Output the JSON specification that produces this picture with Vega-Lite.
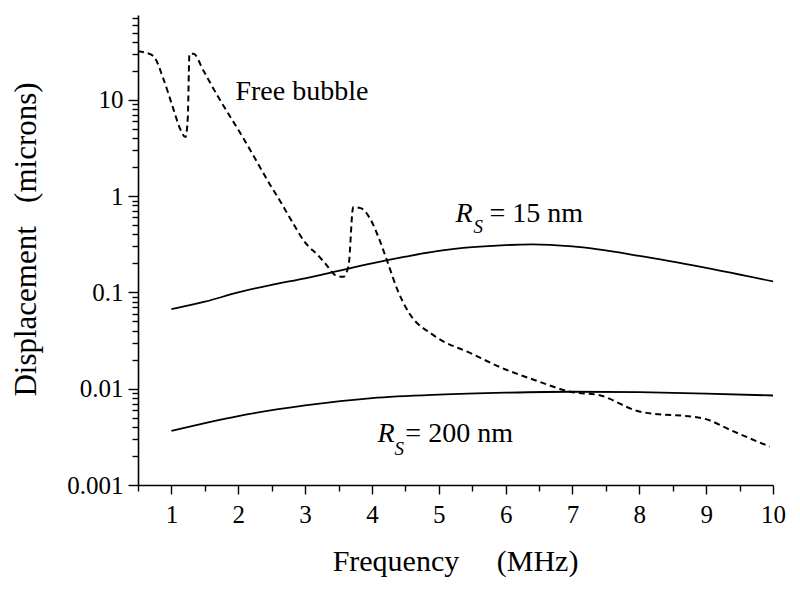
{
  "$schema": "https://vega.github.io/schema/vega-lite/v6.json",
  "autosize": {"type": "none"},
  "width": 635,
  "height": 470,
  "padding": {"left": 138, "top": 15, "right": 27, "bottom": 107},
  "background": "white",
  "config": {
    "view": {"stroke": null},
    "font": "Liberation Serif, Times New Roman, Times, serif",
    "text": {"font": "Liberation Serif, Times New Roman, Times, serif"},
    "axis": {"grid": false, "domainColor": "black", "tickColor": "black", "labelColor": "black", "titleColor": "black", "domainWidth": 1.6, "tickWidth": 1.4, "labelFont": "Liberation Serif, Times New Roman, Times, serif", "titleFont": "Liberation Serif, Times New Roman, Times, serif", "titleFontWeight": "normal"}
  },
  "datasets": {
    "curves": [
      {"series": "Free bubble", "freq": 0.5, "disp": 32},
      {"series": "Free bubble", "freq": 0.6, "disp": 31},
      {"series": "Free bubble", "freq": 0.73, "disp": 28.5},
      {"series": "Free bubble", "freq": 0.88, "disp": 16.5},
      {"series": "Free bubble", "freq": 1.03, "disp": 8.0},
      {"series": "Free bubble", "freq": 1.13, "disp": 5.0},
      {"series": "Free bubble", "freq": 1.21, "disp": 4.1},
      {"series": "Free bubble", "freq": 1.245, "disp": 6.5},
      {"series": "Free bubble", "freq": 1.27, "disp": 30},
      {"series": "Free bubble", "freq": 1.33, "disp": 30},
      {"series": "Free bubble", "freq": 1.48, "disp": 20},
      {"series": "Free bubble", "freq": 1.69, "disp": 11},
      {"series": "Free bubble", "freq": 1.85, "disp": 7.2},
      {"series": "Free bubble", "freq": 2.0, "disp": 4.9},
      {"series": "Free bubble", "freq": 2.18, "disp": 3.0},
      {"series": "Free bubble", "freq": 2.48, "disp": 1.3},
      {"series": "Free bubble", "freq": 2.63, "disp": 0.88},
      {"series": "Free bubble", "freq": 2.8, "disp": 0.55},
      {"series": "Free bubble", "freq": 3.0, "disp": 0.33},
      {"series": "Free bubble", "freq": 3.2, "disp": 0.24},
      {"series": "Free bubble", "freq": 3.3, "disp": 0.2},
      {"series": "Free bubble", "freq": 3.46, "disp": 0.15},
      {"series": "Free bubble", "freq": 3.57, "disp": 0.145},
      {"series": "Free bubble", "freq": 3.65, "disp": 0.19},
      {"series": "Free bubble", "freq": 3.72, "disp": 0.77},
      {"series": "Free bubble", "freq": 3.83, "disp": 0.75},
      {"series": "Free bubble", "freq": 3.98, "disp": 0.57},
      {"series": "Free bubble", "freq": 4.1, "disp": 0.37},
      {"series": "Free bubble", "freq": 4.23, "disp": 0.21},
      {"series": "Free bubble", "freq": 4.38, "disp": 0.107},
      {"series": "Free bubble", "freq": 4.55, "disp": 0.062},
      {"series": "Free bubble", "freq": 4.92, "disp": 0.036},
      {"series": "Free bubble", "freq": 5.5, "disp": 0.023},
      {"series": "Free bubble", "freq": 5.93, "disp": 0.0166},
      {"series": "Free bubble", "freq": 6.42, "disp": 0.0124},
      {"series": "Free bubble", "freq": 6.97, "disp": 0.0093},
      {"series": "Free bubble", "freq": 7.42, "disp": 0.0085},
      {"series": "Free bubble", "freq": 8.0, "disp": 0.0058},
      {"series": "Free bubble", "freq": 8.96, "disp": 0.0049},
      {"series": "Free bubble", "freq": 9.41, "disp": 0.0036},
      {"series": "Free bubble", "freq": 9.95, "disp": 0.0025},
      {"series": "Rs 15 nm", "freq": 1, "disp": 0.067},
      {"series": "Rs 15 nm", "freq": 1.5, "disp": 0.08},
      {"series": "Rs 15 nm", "freq": 2, "disp": 0.1},
      {"series": "Rs 15 nm", "freq": 2.5, "disp": 0.12},
      {"series": "Rs 15 nm", "freq": 3, "disp": 0.14},
      {"series": "Rs 15 nm", "freq": 3.5, "disp": 0.167},
      {"series": "Rs 15 nm", "freq": 4, "disp": 0.2},
      {"series": "Rs 15 nm", "freq": 4.5, "disp": 0.235},
      {"series": "Rs 15 nm", "freq": 5, "disp": 0.27},
      {"series": "Rs 15 nm", "freq": 5.5, "disp": 0.295},
      {"series": "Rs 15 nm", "freq": 6, "disp": 0.31},
      {"series": "Rs 15 nm", "freq": 6.4, "disp": 0.315},
      {"series": "Rs 15 nm", "freq": 7, "disp": 0.3},
      {"series": "Rs 15 nm", "freq": 8, "disp": 0.24},
      {"series": "Rs 15 nm", "freq": 9, "disp": 0.18},
      {"series": "Rs 15 nm", "freq": 10, "disp": 0.13},
      {"series": "Rs 200 nm", "freq": 1, "disp": 0.00365},
      {"series": "Rs 200 nm", "freq": 2, "disp": 0.0052},
      {"series": "Rs 200 nm", "freq": 3, "disp": 0.0067},
      {"series": "Rs 200 nm", "freq": 4, "disp": 0.008},
      {"series": "Rs 200 nm", "freq": 5, "disp": 0.0087},
      {"series": "Rs 200 nm", "freq": 6, "disp": 0.0091},
      {"series": "Rs 200 nm", "freq": 7, "disp": 0.0093},
      {"series": "Rs 200 nm", "freq": 8, "disp": 0.0092},
      {"series": "Rs 200 nm", "freq": 9, "disp": 0.0089},
      {"series": "Rs 200 nm", "freq": 10, "disp": 0.0085}
    ],
    "plainText": [
      {"freq": 1.957, "disp": 10, "text": "Free bubble"},
      {"freq": 5.758, "disp": 0.54, "text": "= 15 nm"},
      {"freq": 4.5, "disp": 0.0028, "text": "= 200 nm"}
    ],
    "italicR": [
      {"freq": 5.249, "disp": 0.54, "text": "R"},
      {"freq": 4.082, "disp": 0.0028, "text": "R"}
    ],
    "italicS": [
      {"freq": 5.52, "disp": 0.415, "text": "S"},
      {"freq": 4.336, "disp": 0.00205, "text": "S"}
    ]
  },
  "resolve": {"axis": {"x": "independent", "y": "independent"}},
  "layer": [
    {
      "data": {"name": "curves"},
      "transform": [{"filter": "datum.series !== 'Free bubble'"}],
      "mark": {"type": "line", "color": "black", "strokeWidth": 1.8, "interpolate": "monotone", "clip": true},
      "encoding": {
        "x": {"field": "freq", "type": "quantitative",
              "scale": {"domain": [0.5, 10], "nice": false, "zero": false},
              "axis": {"orient": "bottom", "values": [1, 2, 3, 4, 5, 6, 7, 8, 9, 10], "format": "d", "tickSize": 9, "labelFontSize": 25, "labelBaseline": "alphabetic", "labelPadding": 28, "labelFlush": false, "labelOverlap": false,
                       "title": "Frequency\u00a0\u00a0\u00a0\u00a0\u00a0(MHz)", "titleFontSize": 30, "titleX": 317, "titleY": 85, "titleBaseline": "alphabetic", "titleAlign": "center"}},
        "y": {"field": "disp", "type": "quantitative",
              "scale": {"type": "log", "domain": [0.001, 76], "nice": false},
              "axis": {"orient": "left", "values": [0.001, 0.01, 0.1, 1, 10], "format": "~g", "tickSize": 10, "labelFontSize": 25, "labelPadding": 5, "labelFlush": false, "labelOverlap": false,
                       "title": "Displacement\u00a0\u00a0\u00a0(microns)", "titleFontSize": 31, "titleAngle": -90, "titleX": -103, "titleY": 224, "titleBaseline": "alphabetic", "titleAlign": "center"}},
        "detail": {"field": "series", "type": "nominal"}
      }
    },
    {
      "data": {"name": "curves"},
      "transform": [{"filter": "datum.series === 'Free bubble'"}],
      "mark": {"type": "line", "color": "black", "strokeWidth": 2, "strokeDash": [6, 4], "interpolate": "monotone", "clip": true},
      "encoding": {
        "x": {"field": "freq", "type": "quantitative",
              "axis": {"orient": "bottom", "values": [0.5, 1.5, 2.5, 3.5, 4.5, 5.5, 6.5, 7.5, 8.5, 9.5], "labels": false, "domain": false, "tickSize": 6, "title": null}},
        "y": {"field": "disp", "type": "quantitative",
              "axis": {"orient": "left", "values": [0.002, 0.003, 0.004, 0.005, 0.006, 0.007, 0.008, 0.009, 0.02, 0.03, 0.04, 0.05, 0.06, 0.07, 0.08, 0.09, 0.2, 0.3, 0.4, 0.5, 0.6, 0.7, 0.8, 0.9, 2, 3, 4, 5, 6, 7, 8, 9, 20, 30, 40, 50, 60, 70], "labels": false, "domain": false, "tickSize": 6, "title": null}}
      }
    },
    {
      "data": {"name": "plainText"},
      "mark": {"type": "text", "align": "left", "baseline": "alphabetic", "font": "Liberation Serif, Times New Roman, Times, serif", "fontSize": 28, "color": "black"},
      "encoding": {
        "x": {"field": "freq", "type": "quantitative", "axis": null},
        "y": {"field": "disp", "type": "quantitative", "axis": null},
        "text": {"field": "text"}
      }
    },
    {
      "data": {"name": "italicR"},
      "mark": {"type": "text", "align": "left", "baseline": "alphabetic", "font": "Liberation Serif, Times New Roman, Times, serif", "fontStyle": "italic", "fontSize": 28, "color": "black"},
      "encoding": {
        "x": {"field": "freq", "type": "quantitative", "axis": null},
        "y": {"field": "disp", "type": "quantitative", "axis": null},
        "text": {"field": "text"}
      }
    },
    {
      "data": {"name": "italicS"},
      "mark": {"type": "text", "align": "left", "baseline": "alphabetic", "font": "Liberation Serif, Times New Roman, Times, serif", "fontStyle": "italic", "fontSize": 19, "color": "black"},
      "encoding": {
        "x": {"field": "freq", "type": "quantitative", "axis": null},
        "y": {"field": "disp", "type": "quantitative", "axis": null},
        "text": {"field": "text"}
      }
    }
  ]
}
